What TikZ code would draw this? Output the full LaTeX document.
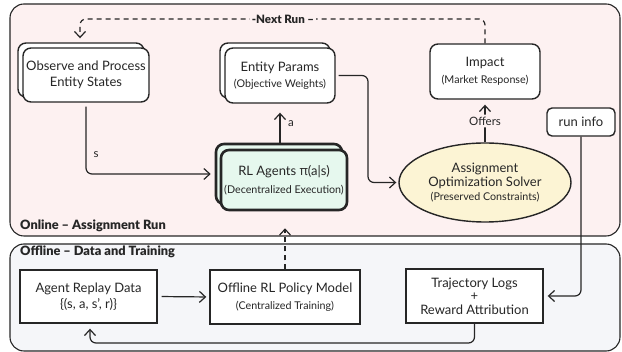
\documentclass[tikz,border=0pt]{standalone}
\usepackage{fontspec}
\setmainfont{Lato}
\newfontfamily\heavyfont{Lato Black}
\newfontfamily\pifont{Open Sans}
\usetikzlibrary{arrows.meta,shapes.geometric,calc}
\definecolor{onlinebg}{HTML}{FDF1F1}
\definecolor{offlinebg}{HTML}{F5F6F9}
\definecolor{rlbg}{HTML}{E6F8EE}
\definecolor{solverbg}{HTML}{FCF4D4}
\definecolor{ink}{HTML}{262626}
\newcommand{\sm}{\fontsize{10.7}{12}\selectfont}
\begin{document}
\begin{tikzpicture}[x=1pt,y=-1pt,
  panel/.style={draw=ink,line width=1.1pt,rounded corners=14pt,inner sep=0pt},
  plabel/.style={anchor=west,font=\fontsize{12.8}{14}\heavyfont,text=ink,inner sep=1pt},
  rbox/.style={draw=ink,line width=1.4pt,rounded corners=8pt,fill=white,align=center,inner sep=0pt,text=ink,
    font=\fontsize{13}{15.5}\selectfont},
  sbox/.style={draw=ink,line width=1.4pt,fill=white,align=center,inner sep=0pt,text=ink,
    font=\fontsize{13}{15.5}\selectfont},
  rlbox/.style={rbox,line width=2.6pt,fill=rlbg},
  conn/.style={draw=ink,line width=1.2pt,rounded corners=6pt,-{Straight Barb[length=6pt,width=11pt]}},
  clabel/.style={text=ink,font=\fontsize{11.5}{13}\selectfont,inner sep=1pt}
]
\useasboundingbox (0,0) rectangle (622,352);
% panels
\node[panel,fill=onlinebg,minimum width=610pt,minimum height=232pt] (online) at (315,120) {};
\node[panel,fill=offlinebg,minimum width=610pt,minimum height=107pt] (offline) at (315,297.5) {};
\node[plabel] (onlinelbl) at (19,226) {Online – Assignment Run};
\node[plabel] (offlinelbl) at (19,252) {Offline – Data and Training};

% online nodes
\node[rbox,minimum width=126pt,minimum height=54pt] (obsback) at (81,70) {};
\node[rbox,minimum width=126pt,minimum height=54pt] (obs) at (86,75) {Observe and Process\\Entity States};
\node[rbox,minimum width=110pt,minimum height=55pt] (entback) at (275,70.5) {};
\node[rbox,minimum width=110pt,minimum height=55pt] (ent) at (280,75.5) {Entity Params\\[1pt]{\sm(Objective Weights)}};
\node[rbox,minimum width=110pt,minimum height=55pt] (impact) at (485,71.5) {Impact\\[1pt]{\sm(Market Response)}};
\node[rbox,rounded corners=5pt,minimum width=68pt,minimum height=28pt] (runinfo) at (581,122) {run info};
\node[rlbox,minimum width=126pt,minimum height=60pt] (rlback) at (279,174) {};
\node[rlbox,minimum width=126pt,minimum height=60pt] (rl) at (284,180) {RL Agents {\pifont π}(a|s)\\[2pt]{\sm(Decentralized Execution)}};
\node[ellipse,draw=ink,line width=1.4pt,fill=solverbg,minimum width=172pt,minimum height=79pt,inner sep=0pt,align=center,text=ink,
  font=\fontsize{13}{15.5}\selectfont] (solver) at (485,182.5) {Assignment\\[-1.5pt]Optimization Solver\\[-1.5pt]{\sm(Preserved Constraints)}};

% offline nodes
\node[sbox,minimum width=137pt,minimum height=53pt] (agent) at (88.5,296.5) {Agent Replay Data\\\{(s, a, s', r)\}};
\node[sbox,minimum width=150pt,minimum height=54pt] (policy) at (285,297) {Offline RL Policy Model\\[2pt]{\sm(Centralized Training)}};
\node[sbox,minimum width=137pt,minimum height=54pt] (traj) at (474.5,296) {Trajectory Logs\\[-2pt]+\\[-2pt]Reward Attribution};

% coordinates
\coordinate (nr) at (80,19);
\coordinate (ej) at (368,130);
\coordinate (bl) at (90,343);

% connectors
\draw[conn,dashed,dash pattern=on 5pt off 4pt,shorten >=4pt] (impact.north) |- (nr) -- (nr |- obsback.north);
\node[clabel,font=\fontsize{11.5}{13}\heavyfont,fill=onlinebg,inner sep=2pt] (nrl) at (283,19) {-Next Run –};
\draw[conn,shorten <=4pt,shorten >=4pt] (obs.south) |- (rlback.west);
\node[clabel] (sl) at (96,155) {s};
\draw[conn,shorten >=9pt] (rlback.north -| ent.south) -- (ent.south);
\node[clabel] (al) at (291,124) {a};
\draw[conn,shorten <=3pt,shorten >=2pt] (ent.east) -| (ej) |- (solver.west);
\draw[conn,shorten >=5pt] (solver.north) -- (impact.south) node[clabel,midway,fill=onlinebg,inner sep=2pt] (offl) {Offers};
\draw[conn,shorten >=4pt] (runinfo.south) |- (traj.east);
\draw[conn,dashed,dash pattern=on 5pt off 4pt,shorten >=17pt] (policy.north) -- (policy.north |- rl.south);
\draw[conn,shorten <=4pt,shorten >=3pt] (agent.east) -- (policy.west);
\draw[conn,shorten >=5pt] (traj.south) |- (bl) -- (bl |- agent.south);
\end{tikzpicture}
\end{document}
